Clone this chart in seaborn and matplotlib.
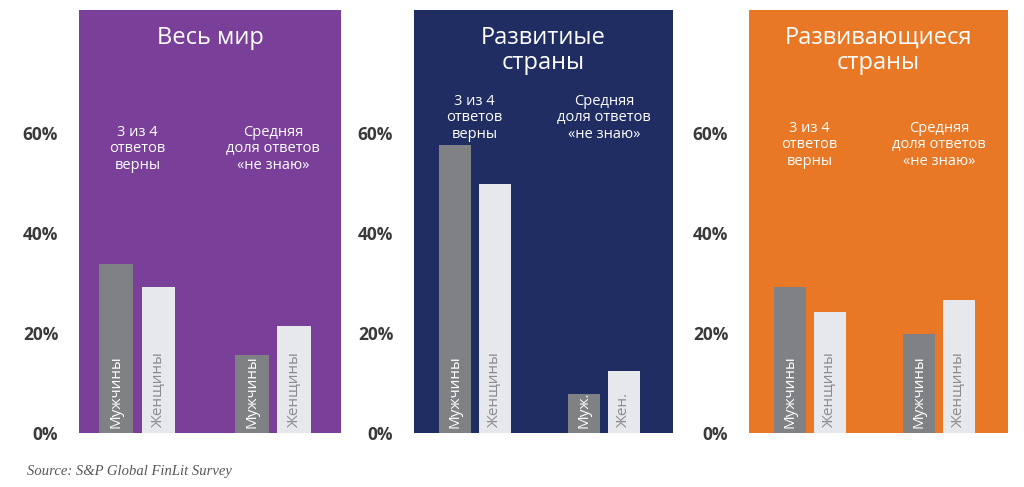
import pandas as pd
import matplotlib
matplotlib.use('Agg')
import matplotlib.pyplot as plt
import seaborn as sns

sns.set_style('white')
plt.rcParams['font.family'] = ['Open Sans', 'DejaVu Sans']

# данные (доли, %)
groups = ['3 из 4\nответов\nверны', 'Средняя\nдоля ответов\n«не знаю»']
sexes = ['Мужчины', 'Женщины']
titles = ['Весь мир', 'Развитиые\nстраны', 'Развивающиеся\nстраны']
world_vals = [[33.7, 29.3], [15.6, 21.4]]
developed_vals = [[57.6, 49.8], [7.8, 12.4]]
developing_vals = [[29.3, 24.3], [19.8, 26.6]]
short_labels = [['Мужчины', 'Женщины'], ['Муж.', 'Жен.']]
yticks = [0, 20, 40, 60]
ytick_labels = ['0%', '20%', '40%', '60%']

panel_colors = ['#7A3F98', '#1F2D63', '#E87826']
bar_colors = ['#808184', '#E7E8EC']
label_colors = ['white', '#8A8A8E']

fig = plt.figure(figsize=(10.24, 4.87), dpi=100)

panels = [
    # left, width, xlim, subtitle y
    (79, 262, (-0.43, 1.5), 56.8),
    (414, 259, (-0.47, 1.535), 63.0),
    (749, 259, (-0.47, 1.535), 57.6),
]
all_vals = [world_vals, developed_vals, developing_vals]

for i, (left, width, xlim, sub_y) in enumerate(panels):
    ax = fig.add_axes([left / 1024, 1 - 433 / 487, width / 1024, 423 / 487])
    vals = all_vals[i]
    df = pd.DataFrame({
        'group': [g for g in groups for s in sexes],
        'sex': [s for g in groups for s in sexes],
        'value': [vals[gi][si] for gi in range(2) for si in range(2)],
    })
    sns.barplot(data=df, x='group', y='value', hue='sex', hue_order=sexes,
                palette=bar_colors, width=0.62, gap=0.2, saturation=1,
                linewidth=0, legend=False, ax=ax)
    ax.set_facecolor(panel_colors[i])
    ax.set_xlim(*xlim)
    ax.set_ylim(0, 84.6)
    ax.set_yticks(yticks)
    ax.set_yticklabels(ytick_labels, fontsize=12.5, fontweight='bold', color='#3A3A3A')
    ax.tick_params(axis='y', length=0, pad=15)
    ax.set_xticks([])
    ax.set_xlabel('')
    ax.set_ylabel('')
    for sp in ax.spines.values():
        sp.set_visible(False)

    # заголовок панели
    ax.text(0.5, 0.962, titles[i], transform=ax.transAxes, ha='center', va='top',
            fontsize=17, color='white', linespacing=1.05)

    # подписи групп
    for gi, g in enumerate(groups):
        ax.text(gi, sub_y, g, ha='center', va='center', fontsize=10.5,
                color='white', linespacing=1.1)

    # подписи внутри столбцов
    for si, cont in enumerate(ax.containers):
        for gi, bar in enumerate(cont):
            names = short_labels[1] if (i == 1 and gi == 1) else short_labels[0]
            ax.text(bar.get_x() + bar.get_width() / 2, 1.0, names[si],
                    rotation=90, ha='center', va='bottom', fontsize=11,
                    color=label_colors[si])

fig.text(27 / 1024, 1 - 472 / 487, 'Source: S&P Global FinLit Survey',
         family=['Liberation Serif', 'DejaVu Serif'], style='italic',
         fontsize=10.5, color='#555555', ha='left', va='center')

fig.savefig('out.png', dpi=100, facecolor='white')
